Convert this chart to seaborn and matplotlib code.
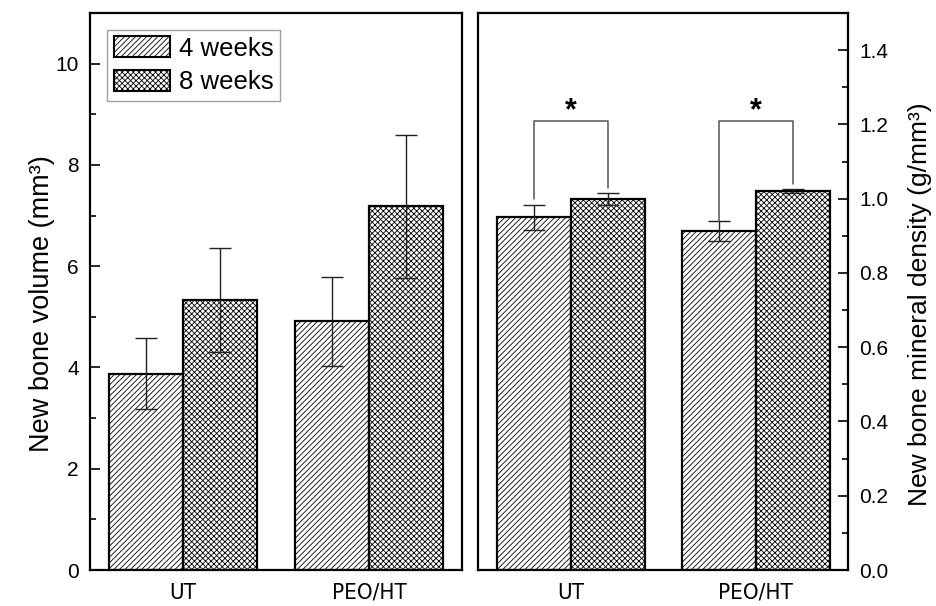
import numpy as np
import pandas as pd
import matplotlib
matplotlib.use("Agg")
import matplotlib.pyplot as plt
import seaborn as sns
from matplotlib.patches import Patch
from matplotlib.ticker import MultipleLocator
from matplotlib import font_manager

# ---------------- data ----------------
groups = ["UT", "PEO/HT"]
periods = ["4 weeks", "8 weeks"]

volume_4w = [3.88, 4.91]
volume_8w = [5.33, 7.18]
volume_err_4w = [0.70, 0.88]
volume_err_8w = [1.03, 1.41]

density_4w = [0.950, 0.913]
density_8w = [1.000, 1.021]
density_err_4w = [0.033, 0.027]
density_err_8w = [0.016, 0.005]

volume_ticks = [0, 2, 4, 6, 8, 10]
density_ticks = [0.0, 0.2, 0.4, 0.6, 0.8, 1.0, 1.2, 1.4]

# significance brackets (right panel): leg bottoms for (4 weeks, 8 weeks) per group, bracket top
sig_leg_bottoms = [[1.00, 1.03], [0.94, 1.04]]
sig_top = 1.21
sig_label = "*"

# ---------------- style ----------------
sns.set_style("white")
plt.rcParams["font.family"] = ["Liberation Sans", "DejaVu Sans"]
plt.rcParams["hatch.linewidth"] = 0.6
plt.rcParams["hatch.color"] = "black"
for key in ["text.color", "axes.labelcolor", "xtick.color", "ytick.color"]:
    plt.rcParams[key] = "black"

fonts = font_manager.fontManager.ttflist
names = {f.name for f in fonts}
xstretch = "normal"
if "Liberation Sans Narrow" in names:
    xfont, xsize = ["Liberation Sans Narrow", "DejaVu Sans"], 17
elif any(f.name == "DejaVu Sans" and "ondensed" in str(f.stretch) + f.fname for f in fonts):
    xfont, xsize, xstretch = ["DejaVu Sans"], 16, "condensed"
else:
    xfont, xsize = ["Liberation Sans", "DejaVu Sans"], 16

hatches = ["//////", "xxxxxx"]

fig = plt.figure(figsize=(9.36, 6.06), dpi=100)
ax1 = fig.add_axes([0.0962, 0.0594, 0.3974, 0.9191])
ax2 = fig.add_axes([0.5107, 0.0594, 0.3953, 0.9191])


def draw(ax, v4, v8, e4, e8):
    df = pd.DataFrame({
        "group": groups * 2,
        "period": [periods[0]] * len(groups) + [periods[1]] * len(groups),
        "value": list(v4) + list(v8),
    })
    sns.barplot(data=df, x="group", y="value", hue="period", order=groups,
                hue_order=periods, palette=["white", "white"], saturation=1,
                edgecolor="black", linewidth=1.6, width=0.8, errorbar=None,
                legend=False, ax=ax)
    for cont, hatch, errs in zip(ax.containers, hatches, [e4, e8]):
        for bar in cont:
            bar.set_hatch(hatch)
        xs = [b.get_x() + b.get_width() / 2 for b in cont]
        ys = [b.get_height() for b in cont]
        ax.errorbar(xs, ys, yerr=errs, fmt="none", ecolor="#222222",
                    elinewidth=1.0, capsize=8, capthick=1.0, zorder=5)
    ax.set_xlim(-0.5, len(groups) - 0.5)
    ax.set_xlabel("")
    for s in ax.spines.values():
        s.set_visible(True)
        s.set_color("black")
        s.set_linewidth(1.6)
    ax.tick_params(axis="x", length=0, pad=9)
    for lab in ax.get_xticklabels():
        lab.set_fontfamily(xfont)
        lab.set_fontsize(xsize)
        lab.set_fontstretch(xstretch)
        lab.set_color("black")


draw(ax1, volume_4w, volume_8w, volume_err_4w, volume_err_8w)
draw(ax2, density_4w, density_8w, density_err_4w, density_err_8w)

# left axis
ax1.set_ylim(0, 11)
ax1.set_yticks(volume_ticks)
ax1.set_yticklabels([str(t) for t in volume_ticks])
ax1.yaxis.set_minor_locator(MultipleLocator(1))
ax1.tick_params(axis="y", which="both", direction="in", left=True, right=False,
                labelsize=15, width=1.2, pad=8, colors="black")
ax1.tick_params(axis="y", which="major", length=7)
ax1.tick_params(axis="y", which="minor", length=4.5)
ax1.set_ylabel("New bone volume (mm³)", fontsize=19.5, color="black")
ax1.yaxis.set_label_coords(-0.093, 0.478)

# right axis
ax2.set_ylim(0, 1.5)
ax2.yaxis.tick_right()
ax2.yaxis.set_label_position("right")
ax2.set_yticks(density_ticks)
ax2.set_yticklabels([f"{t:.1f}" for t in density_ticks])
ax2.yaxis.set_minor_locator(MultipleLocator(0.1))
ax2.tick_params(axis="y", which="both", direction="in", left=False, right=True,
                labelleft=False, labelright=True, labelsize=15, width=1.2, pad=8,
                colors="black")
ax2.tick_params(axis="y", which="major", length=7)
ax2.tick_params(axis="y", which="minor", length=4.5)
ax2.set_ylabel("New bone mineral density (g/mm³)", fontsize=19, color="black")
ax2.yaxis.set_label_coords(1.163, 0.477)

# significance brackets
c4, c8 = ax2.containers[0], ax2.containers[1]
for b4, b8, (lo4, lo8) in zip(c4, c8, sig_leg_bottoms):
    x4 = b4.get_x() + b4.get_width() / 2
    x8 = b8.get_x() + b8.get_width() / 2
    ax2.plot([x4, x4, x8, x8], [lo4, sig_top, sig_top, lo8], color="#555555",
             linewidth=1.1, zorder=6)
    ax2.text((x4 + x8) / 2, sig_top - 0.015, sig_label, ha="center", va="bottom",
             fontsize=22, fontweight="bold", color="black")

# legend
handles = [Patch(facecolor="white", edgecolor="black", hatch=h, linewidth=1.5)
           for h in hatches]
leg = ax1.legend(handles, periods, loc="upper left", bbox_to_anchor=(0.046, 0.97),
                 borderaxespad=0, fontsize=18.5, frameon=True, fancybox=False,
                 handlelength=2.2, handleheight=0.9, handletextpad=0.34,
                 labelspacing=0.35, borderpad=0.25, edgecolor="#888888")
leg.get_frame().set_linewidth(1.0)
for t in leg.get_texts():
    t.set_color("black")

fig.savefig("out.png", dpi=100)
